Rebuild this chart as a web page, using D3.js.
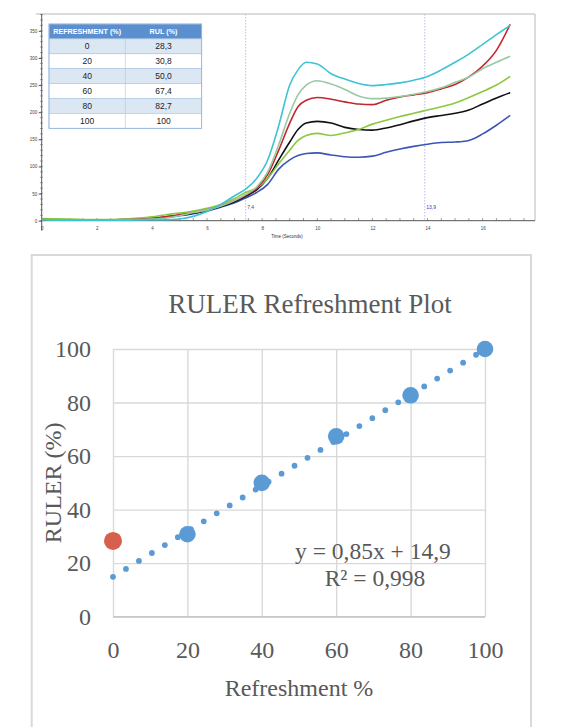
<!DOCTYPE html>
<html><head><meta charset="utf-8">
<script src="https://cdn.jsdelivr.net/npm/d3@7"></script>
<style>html,body{margin:0;padding:0;background:#fff;}svg{display:block;}</style>
</head><body>
<svg id="c" width="562" height="727"></svg>
<script>
// ---------- Data: top chart (RUL curves) ----------
const times = [0,1,2,3,4,4.5,5,5.5,6,6.5,7,7.4,7.8,8.2,8.6,9.0,9.3,9.6,10.0,10.5,11.0,11.5,12.0,12.5,13.0,13.5,14.0,14.5,15.0,15.5,16.0,16.5,17.0];
const cyanVals  = [2,1,1,1,2,2,3,8,17,30,46,58,78,112,175,250,278,292,289,271,261,253,249,251,254,259,266,278,292,307,325,343,360];
const paleVals  = [2,1,1,2,3,5,9,15,20,27,37,48,62,90,140,198,232,250,258,252,242,230,225,226,229,233,238,245,255,265,280,292,303];
const redVals   = [2,1,1,2,4,7,11,15,20,27,37,47,60,85,130,180,210,222,227,224,219,215,214,222,228,232,236,243,251,265,285,314,362];
const blackVals = [1,1,1,2,4,7,10,14,19,26,35,45,57,78,112,145,168,180,183,180,172,168,167,171,177,184,190,194,198,204,215,226,236];
const greenVals = [4,3,2,3,7,11,14,18,23,30,41,52,60,78,105,130,148,157,161,157,162,168,178,185,192,198,204,210,217,227,238,250,266];
const blueVals  = [1,1,1,1,4,6,9,13,18,25,33,42,52,67,95,112,120,124,125,121,118,117,119,126,132,137,141,144,145,148,160,176,194];
const markers = [7.4, 13.9];
const markerLabels = ["7,4", "13,9"];
const yTicksTop = [0,50,100,150,200,250,300,350];
const xTicksTop = [0,2,4,6,8,10,12,14,16];

// ---------- Data: table ----------
const tableHeader = ["REFRESHMENT (%)", "RUL (%)"];
const tableRefresh = ["0","20","40","60","80","100"];
const tableRul = ["28,3","30,8","50,0","67,4","82,7","100"];

// ---------- Data: bottom chart ----------
const refreshment = [0,20,40,60,80,100];
const ruler = [28.3,30.8,50.0,67.4,82.7,100];
const trendSlope = 0.85, trendIntercept = 14.9;
const bottomTicks = [0,20,40,60,80,100];
const equationLines = ["y = 0,85x + 14,9", "R\u00B2 = 0,998"];

const svg = d3.select("#c");

// ===== TOP CHART =====
const x1 = d3.scaleLinear().domain([0,17.9]).range([41.7,535]);
const y1 = d3.scaleLinear().domain([0,381]).range([220.7,14]);
const gTop = svg.append("g");

// frame
gTop.append("path").attr("d", `M${x1(0)-6},${y1(381)}H${x1(17.9)}V${y1(0)}`)
  .attr("fill","none").attr("stroke","#b8b8b8").attr("stroke-width",1);

// marker lines
markers.forEach((m,i)=>{
  gTop.append("line").attr("x1",x1(m)).attr("x2",x1(m)).attr("y1",y1(381)).attr("y2",y1(0))
    .attr("stroke","#a9a9e6").attr("stroke-width",0.8).attr("stroke-dasharray","1.5,1.5");
  gTop.append("text").attr("x",x1(m)+1.5).attr("y",209).text(markerLabels[i])
    .attr("font-family","Liberation Sans Narrow, Liberation Sans, sans-serif").attr("font-size",5).attr("fill","#3a3aa8");
});

// y axis
const yAx = gTop.append("g").attr("transform",`translate(${x1(0)},0)`)
  .call(d3.axisLeft(y1).tickValues(yTicksTop).tickSize(3).tickPadding(1.5));
yAx.select(".domain").attr("d",`M0,${y1(381)}V${y1(0)+10}`).attr("stroke","#555");
yAx.selectAll(".tick line").attr("stroke","#555");
yAx.selectAll("text").attr("font-size",4.5).attr("fill","#444").attr("font-family","Liberation Sans, sans-serif");
gTop.append("g").attr("transform",`translate(${x1(0)},0)`)
  .selectAll("line").data(d3.range(0,381,10)).join("line")
  .attr("x1",-1.8).attr("x2",1.2).attr("y1",d=>y1(d)).attr("y2",d=>y1(d)).attr("stroke","#666").attr("stroke-width",0.6);

// x axis
const xAx = gTop.append("g").attr("transform",`translate(0,${y1(0)})`)
  .call(d3.axisBottom(x1).tickValues(xTicksTop).tickSize(0).tickPadding(6).tickFormat(d3.format("d")));
xAx.select(".domain").attr("d",`M${x1(0)},0H${x1(17.9)}`).attr("stroke","#555");
xAx.selectAll("text").attr("font-size",4.5).attr("fill","#444").attr("font-family","Liberation Sans, sans-serif");
gTop.append("g").selectAll("line").data(d3.range(0,17.9,0.5)).join("line")
  .attr("x1",d=>x1(d)).attr("x2",d=>x1(d)).attr("y1",y1(0)).attr("y2",y1(0)-2.6)
  .attr("stroke","#555").attr("stroke-width",0.6);
gTop.append("text").attr("x",287).attr("y",238).attr("text-anchor","middle").text("Time (Seconds)")
  .attr("font-family","Liberation Sans Narrow, Liberation Sans, sans-serif").attr("font-size",4.5).attr("fill","#333");

// curves
const seriesTop = [
  {v: blueVals,  c:"#3b55b6"},
  {v: blackVals, c:"#111111"},
  {v: greenVals, c:"#8cc83e"},
  {v: redVals,   c:"#c0282e"},
  {v: paleVals,  c:"#97c9a3"},
  {v: cyanVals,  c:"#3fc2d3"}
];
const line1 = d3.line().x(d=>x1(d[0])).y(d=>y1(d[1])).curve(d3.curveMonotoneX);
seriesTop.forEach(s=>{
  gTop.append("path").datum(times.map((t,i)=>[t,s.v[i]])).attr("d",line1)
    .attr("fill","none").attr("stroke",s.c).attr("stroke-width",1.6).attr("stroke-linejoin","round");
});

// table
const tX = d3.scaleBand().domain([0,1]).range([49,201.7]);
const rowY = d3.scaleBand().domain(d3.range(7)).range([24,128.3]);
const tbl = gTop.append("g");
tbl.selectAll("rect.row").data(d3.range(7)).join("rect")
  .attr("x",49).attr("width",152.7).attr("y",d=>rowY(d)).attr("height",rowY.bandwidth())
  .attr("fill",d=>d===0?"#5b8fcf":(d%2===1?"#dce7f4":"#ffffff"))
  .attr("stroke","#a9c4e3").attr("stroke-width",0.6);
tbl.append("line").attr("x1",tX(1)).attr("x2",tX(1)).attr("y1",rowY(1)).attr("y2",128.3)
  .attr("stroke","#a9c4e3").attr("stroke-width",0.6);
tbl.append("rect").attr("x",49).attr("y",24).attr("width",152.7).attr("height",104.3)
  .attr("fill","none").attr("stroke","#8fb1da").attr("stroke-width",0.8);
tableHeader.forEach((h,i)=>{
  tbl.append("text").attr("x",tX(i)+tX.bandwidth()/2).attr("y",rowY(0)+rowY.bandwidth()/2+2.6)
    .attr("text-anchor","middle").text(h).attr("fill","#fff").attr("font-weight","bold")
    .attr("font-family","Liberation Sans Narrow, Arial Narrow, Liberation Sans, sans-serif").attr("font-size",7.2);
});
[tableRefresh, tableRul].forEach((col,ci)=>{
  col.forEach((v,ri)=>{
    tbl.append("text").attr("x",tX(ci)+tX.bandwidth()/2).attr("y",rowY(ri+1)+rowY.bandwidth()/2+3)
      .attr("text-anchor","middle").text(v).attr("fill","#222")
      .attr("font-family","Liberation Sans Narrow, Arial Narrow, Liberation Sans, sans-serif").attr("font-size",8.5);
  });
});

// ===== BOTTOM CHART =====
const bot = svg.append("g");
bot.append("rect").attr("x",31.7).attr("y",255).attr("width",499.3).attr("height",500)
  .attr("fill","#fff").attr("stroke","#d9d9d9").attr("stroke-width",2);

const x2 = d3.scaleLinear().domain([0,100]).range([113,485]);
const y2 = d3.scaleLinear().domain([0,100]).range([616.7,349]);
const serif = "Liberation Serif, Times New Roman, serif";

// gridlines via axes
const gx = bot.append("g").attr("transform",`translate(0,${y2(0)})`)
  .call(d3.axisBottom(x2).tickValues(bottomTicks).tickSize(-(y2(0)-y2(100))).tickPadding(22));
const gy = bot.append("g").attr("transform",`translate(${x2(0)},0)`)
  .call(d3.axisLeft(y2).tickValues(bottomTicks).tickSize(-(x2(100)-x2(0))).tickPadding(22));
[gx,gy].forEach(g=>{
  g.select(".domain").remove();
  g.selectAll(".tick line").attr("stroke","#d9d9d9").attr("stroke-width",1.4);
  g.selectAll("text").attr("font-family",serif).attr("font-size",24).attr("fill","#595959");
});
gx.selectAll("text").attr("dy","0.35em").attr("y",33);
gy.selectAll("text").attr("x",-22);
bot.append("line").attr("x1",x2(0)).attr("x2",x2(100)).attr("y1",y2(0)).attr("y2",y2(0))
  .attr("stroke","#c8c8c8").attr("stroke-width",1.5);

// title & axis titles
bot.append("text").attr("x",310).attr("y",313).attr("text-anchor","middle").text("RULER Refreshment Plot")
  .attr("font-family",serif).attr("font-size",27).attr("fill","#595959");
bot.append("text").attr("x",299).attr("y",696).attr("text-anchor","middle").text("Refreshment %")
  .attr("font-family",serif).attr("font-size",24).attr("fill","#595959");
bot.append("text").attr("transform",`translate(61,${(y2(0)+y2(100))/2}) rotate(-90)`).attr("text-anchor","middle")
  .text("RULER (%)").attr("font-family",serif).attr("font-size",24).attr("fill","#595959");

// trendline
const trend = d3.line().x(d=>x2(d)).y(d=>y2(trendSlope*d+trendIntercept));
bot.append("path").datum([0,100]).attr("d",trend).attr("fill","none")
  .attr("stroke","#5b9bd5").attr("stroke-width",5.8).attr("stroke-linecap","round")
  .attr("stroke-dasharray","0,15.2");

// points
bot.selectAll("circle.pt").data(refreshment.map((r,i)=>[r,ruler[i]])).join("circle")
  .attr("cx",d=>x2(d[0])).attr("cy",d=>y2(d[1])).attr("r",d=>d[0]===0?9:8.3)
  .attr("fill",d=>d[0]===0?"#d65f4d":"#5b9bd5");

// equation
bot.append("text").attr("x",373).attr("y",559).attr("text-anchor","middle").text(equationLines[0])
  .attr("font-family",serif).attr("font-size",23.5).attr("fill","#595959");
bot.append("text").attr("x",375).attr("y",586).attr("text-anchor","middle").text(equationLines[1])
  .attr("font-family",serif).attr("font-size",23.5).attr("fill","#595959");
</script>
</body></html>
